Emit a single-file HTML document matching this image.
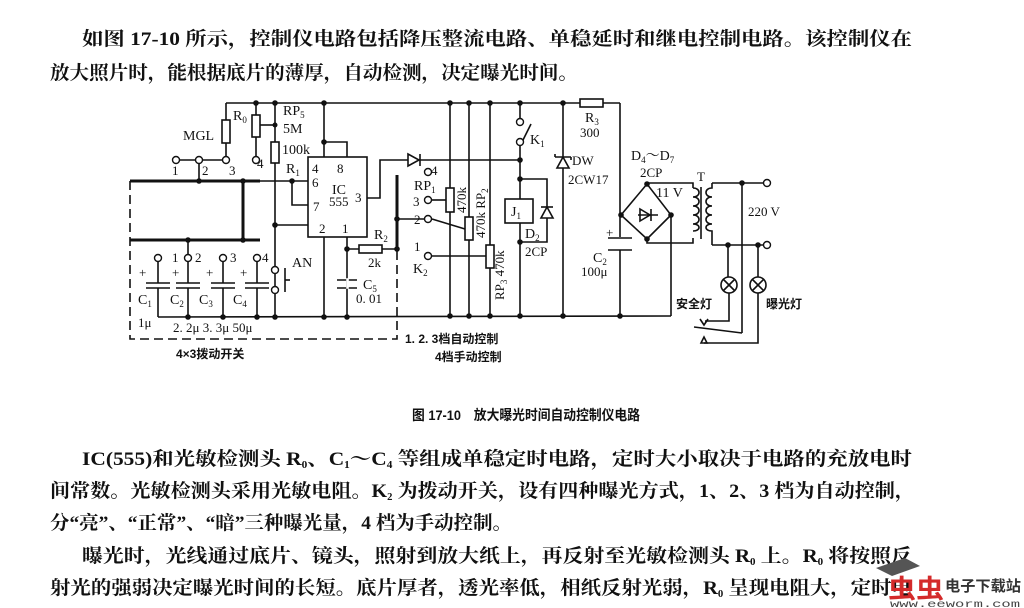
<!DOCTYPE html>
<html><head><meta charset="utf-8"><style>
html,body{margin:0;padding:0;background:#fff;}
svg{display:block;}
.t{font-family:"Liberation Serif","Noto Serif CJK SC",serif;font-weight:bold;fill:#111;}
.c{font-family:"Liberation Serif","Noto Serif CJK SC",serif;fill:#111;}
.cj{font-family:"Liberation Sans","Noto Sans CJK SC",sans-serif;font-weight:bold;fill:#111;}
</style></head><body>
<svg width="1024" height="608" viewBox="0 0 1024 608" xmlns="http://www.w3.org/2000/svg">
<rect width="1024" height="608" fill="#fff"/>
<text class="t" x="82" y="45" font-size="19" textLength="830" lengthAdjust="spacingAndGlyphs">如图 17-10 所示，控制仪电路包括降压整流电路、单稳延时和继电控制电路。该控制仪在</text>
<text class="t" x="50" y="79" font-size="19" textLength="528" lengthAdjust="spacingAndGlyphs">放大照片时，能根据底片的薄厚，自动检测，决定曝光时间。</text>

<g stroke="#111" stroke-width="1.6" fill="none">
<line x1="226" y1="103" x2="620" y2="103"/>
<line x1="226" y1="103" x2="226" y2="156"/>
<rect x="222" y="120" width="8" height="23" fill="#fff"/>
<line x1="256" y1="103" x2="256" y2="157"/>
<rect x="252" y="115" width="8" height="22" fill="#fff"/>
<line x1="260" y1="125" x2="275" y2="125"/>
<line x1="275" y1="103" x2="275" y2="317"/>
<rect x="271" y="142" width="8" height="21" fill="#fff"/>
<line x1="179" y1="160" x2="223" y2="160"/>
<line x1="199" y1="163" x2="199" y2="181"/>
<line x1="130" y1="181" x2="260" y2="181" stroke-width="3"/>
<line x1="260" y1="181" x2="308" y2="181"/>
<line x1="243" y1="181" x2="243" y2="240" stroke-width="3"/>
<line x1="130" y1="240" x2="260" y2="240" stroke-width="3"/>
<line x1="188" y1="240" x2="188" y2="255"/>
<path d="M130 181 V339 H397 V250" stroke-dasharray="9,5"/>
<g>
<line x1="158" y1="261" x2="158" y2="283"/><line x1="146" y1="283" x2="170" y2="283"/><line x1="146" y1="288" x2="170" y2="288"/>
<line x1="188" y1="261" x2="188" y2="283"/><line x1="176" y1="283" x2="200" y2="283"/><line x1="176" y1="288" x2="200" y2="288"/>
<line x1="223" y1="261" x2="223" y2="283"/><line x1="211" y1="283" x2="235" y2="283"/><line x1="211" y1="288" x2="235" y2="288"/>
<line x1="257" y1="261" x2="257" y2="283"/><line x1="245" y1="283" x2="269" y2="283"/><line x1="245" y1="288" x2="269" y2="288"/>
<line x1="158" y1="288" x2="158" y2="317"/><line x1="188" y1="288" x2="188" y2="317"/><line x1="223" y1="288" x2="223" y2="317"/><line x1="257" y1="288" x2="257" y2="317"/>
</g>
<line x1="158" y1="317" x2="671" y2="316"/>
<line x1="285" y1="268" x2="285" y2="292"/><line x1="285" y1="280" x2="290" y2="280"/>
<rect x="308" y="157" width="59" height="80" fill="#fff"/>
<line x1="324" y1="103" x2="324" y2="157"/>
<path d="M324 142 H347 V157"/>
<path d="M292 181 V205 H308"/>
<line x1="275" y1="225" x2="308" y2="225"/>
<line x1="324" y1="237" x2="324" y2="317"/>
<line x1="347" y1="237" x2="347" y2="317"/>
<line x1="337" y1="280" x2="357" y2="280"/><line x1="337" y1="288" x2="357" y2="288"/>
<rect x="347" y="279" width="1" height="9" stroke="#fff"/>
<line x1="347" y1="249" x2="397" y2="249"/>
<rect x="359" y="245" width="23" height="8" fill="#fff"/>
<line x1="397" y1="175" x2="397" y2="249" stroke-width="3"/>
<path d="M367 198 H380 V160 H520"/>
<polygon points="408,154 408,166 419,160" fill="#fff"/>
<line x1="420" y1="154" x2="420" y2="166"/>
<line x1="432" y1="200" x2="446" y2="200"/>
<line x1="397" y1="219" x2="424" y2="219"/>
<line x1="432" y1="219" x2="465" y2="229"/>
<line x1="432" y1="256" x2="486" y2="256"/>
<line x1="450" y1="103" x2="450" y2="316"/>
<rect x="446" y="188" width="8" height="24" fill="#fff"/>
<line x1="469" y1="103" x2="469" y2="316"/>
<rect x="465" y="217" width="8" height="23" fill="#fff"/>
<line x1="490" y1="103" x2="490" y2="316"/>
<rect x="486" y="245" width="8" height="23" fill="#fff"/>
<line x1="520" y1="103" x2="520" y2="119"/>
<line x1="520" y1="145" x2="520" y2="199"/>
<line x1="522" y1="142" x2="531" y2="124"/>
<rect x="505" y="199" width="28" height="24" fill="#fff"/>
<line x1="520" y1="223" x2="520" y2="316"/>
<path d="M520 179 H547 V242 H520"/>
<polygon points="541,218 553,218 547,207" fill="#fff"/>
<line x1="541" y1="207" x2="553" y2="207"/>
<line x1="563" y1="103" x2="563" y2="316"/>
<polygon points="557,168 569,168 563,157" fill="#fff"/>
<path d="M555 157 H571 M555 157 v-3 M571 157 v3"/>
<rect x="580" y="99" width="23" height="8" fill="#fff"/>
<line x1="620" y1="103" x2="620" y2="237"/>
<line x1="620" y1="250" x2="620" y2="316"/>
<line x1="608" y1="238" x2="632" y2="238"/><line x1="608" y1="250" x2="632" y2="250"/>
<polygon points="621,215 647,184 671,215 647,239"/>
<line x1="638" y1="215" x2="658" y2="215"/>
<polygon points="640,209 640,221 650,215"/>
<line x1="651" y1="209" x2="651" y2="221"/>
<line x1="671" y1="215" x2="671" y2="316"/>
<path d="M647 184 V183 H693 V188"/>
<path d="M647 239 V243 H693 V238"/>
<path d="M693 188 c8 0 8 9 0 9 c8 0 8 9 0 9 c8 0 8 9 0 9 c8 0 8 9 0 9 c8 0 8 7 0 7"/>
<line x1="701" y1="187" x2="701" y2="239"/>
<path d="M712 183 V188 c-8 0 -8 9 0 9 c-8 0 -8 9 0 9 c-8 0 -8 9 0 9 c-8 0 -8 9 0 9 c-8 0 -8 7 0 7 V245"/>
<line x1="712" y1="183" x2="764" y2="183"/>
<line x1="712" y1="245" x2="764" y2="245"/>
<line x1="742" y1="183" x2="742" y2="333"/>
<line x1="728" y1="245" x2="728" y2="277"/>
<line x1="758" y1="245" x2="758" y2="277"/>
<circle cx="729" cy="285" r="8"/><path d="M723 279 l12 12 M735 279 l-12 12"/>
<circle cx="758" cy="285" r="8"/><path d="M752 279 l12 12 M764 279 l-12 12"/>
<path d="M729 293 V321 H705"/>
<path d="M758 293 V343 H704"/>
<path d="M694 327 L742 333"/>
<path d="M700 319 l4 6 l4 -6"/>
<path d="M701 343 l3 -6 l3 6 z"/>
</g>
<g stroke="#111" stroke-width="1.4" fill="#fff">
<circle cx="176" cy="160" r="3.5"/><circle cx="199" cy="160" r="3.5"/><circle cx="226" cy="160" r="3.5"/>
<circle cx="256" cy="160" r="3.5"/>
<circle cx="158" cy="258" r="3.5"/><circle cx="188" cy="258" r="3.5"/><circle cx="223" cy="258" r="3.5"/><circle cx="257" cy="258" r="3.5"/>
<circle cx="275" cy="270" r="3.5"/><circle cx="275" cy="290" r="3.5"/>
<circle cx="428" cy="172" r="3.5"/><circle cx="428" cy="200" r="3.5"/><circle cx="428" cy="219" r="3.5"/><circle cx="428" cy="256" r="3.5"/>
<circle cx="520" cy="122" r="3.5"/><circle cx="520" cy="142" r="3.5"/>
<circle cx="767" cy="183" r="3.5"/><circle cx="767" cy="245" r="3.5"/>
</g>
<g fill="#111">
<circle cx="256" cy="103" r="2.8"/><circle cx="275" cy="103" r="2.8"/><circle cx="324" cy="103" r="2.8"/>
<circle cx="275" cy="125" r="2.5"/><circle cx="324" cy="142" r="2.8"/>
<circle cx="199" cy="181" r="2.8"/><circle cx="243" cy="181" r="2.8"/><circle cx="292" cy="181" r="2.8"/>
<circle cx="243" cy="240" r="2.8"/><circle cx="188" cy="240" r="2.8"/>
<circle cx="275" cy="225" r="2.8"/>
<circle cx="188" cy="317" r="2.8"/><circle cx="223" cy="317" r="2.8"/><circle cx="257" cy="317" r="2.8"/><circle cx="275" cy="317" r="2.8"/><circle cx="324" cy="317" r="2.8"/><circle cx="347" cy="317" r="2.8"/>
<circle cx="347" cy="249" r="2.8"/><circle cx="397" cy="249" r="2.8"/><circle cx="397" cy="219" r="2.8"/>
<circle cx="450" cy="103" r="2.8"/><circle cx="469" cy="103" r="2.8"/><circle cx="490" cy="103" r="2.8"/><circle cx="520" cy="103" r="2.8"/><circle cx="563" cy="103" r="2.8"/>
<circle cx="450" cy="316" r="2.8"/><circle cx="469" cy="316" r="2.8"/><circle cx="490" cy="316" r="2.8"/><circle cx="520" cy="316" r="2.8"/><circle cx="563" cy="316" r="2.8"/><circle cx="620" cy="316" r="2.8"/>
<circle cx="520" cy="160" r="2.8"/><circle cx="520" cy="179" r="2.8"/><circle cx="520" cy="242" r="2.8"/>
<circle cx="621" cy="215" r="2.8"/><circle cx="647" cy="184" r="2.8"/><circle cx="671" cy="215" r="2.8"/><circle cx="647" cy="239" r="2.8"/>
<circle cx="742" cy="183" r="2.8"/><circle cx="728" cy="245" r="2.8"/><circle cx="758" cy="245" r="2.8"/>
</g>
<g class="c" font-size="14">
<text x="183" y="140">MGL</text>
<text x="233" y="120">R<tspan font-size="9" dy="3">0</tspan></text>
<text x="283" y="115">RP<tspan font-size="9" dy="3">5</tspan></text>
<text x="283" y="133">5M</text>
<text x="282" y="154">100k</text>
<text x="286" y="173">R<tspan font-size="9" dy="3">1</tspan></text>
<text x="257" y="168" font-size="13">4</text>
<text x="172" y="175" font-size="13">1</text><text x="202" y="175" font-size="13">2</text><text x="229" y="175" font-size="13">3</text>
<text x="312" y="173" font-size="13">4</text><text x="337" y="173" font-size="13">8</text>
<text x="312" y="187" font-size="13">6</text>
<text x="332" y="194" font-size="14">IC</text>
<text x="329" y="206" font-size="13">555</text>
<text x="355" y="202" font-size="13">3</text>
<text x="313" y="211" font-size="13">7</text>
<text x="319" y="233" font-size="13">2</text><text x="342" y="233" font-size="13">1</text>
<text x="374" y="239">R<tspan font-size="9" dy="3">2</tspan></text>
<text x="368" y="267" font-size="13">2k</text>
<text x="363" y="289">C<tspan font-size="9" dy="3">5</tspan></text>
<text x="356" y="303" font-size="13">0. 01</text>
<text x="292" y="267">AN</text>
<text x="172" y="262" font-size="13">1</text><text x="195" y="262" font-size="13">2</text><text x="230" y="262" font-size="13">3</text><text x="262" y="262" font-size="13">4</text>
<text x="138" y="304">C<tspan font-size="9" dy="3">1</tspan></text>
<text x="170" y="304">C<tspan font-size="9" dy="3">2</tspan></text>
<text x="199" y="304">C<tspan font-size="9" dy="3">3</tspan></text>
<text x="233" y="304">C<tspan font-size="9" dy="3">4</tspan></text>
<text x="138" y="327" font-size="13">1μ</text>
<text x="173" y="332" font-size="13">2. 2μ 3. 3μ 50μ</text>
<text x="139" y="277" font-size="13">+</text><text x="172" y="277" font-size="13">+</text><text x="206" y="277" font-size="13">+</text><text x="240" y="277" font-size="13">+</text>
<text x="431" y="175" font-size="13">4</text>
<text x="414" y="190">RP<tspan font-size="9" dy="3">1</tspan></text>
<text x="413" y="206" font-size="13">3</text>
<text x="414" y="224" font-size="13">2</text>
<text x="414" y="251" font-size="13">1</text>
<text x="413" y="273">K<tspan font-size="9" dy="3">2</tspan></text>
<text transform="translate(466,213) rotate(-90)" font-size="13">470k</text>
<text transform="translate(485,238) rotate(-90)" font-size="13">470k RP<tspan font-size="9" dy="3">2</tspan></text>
<text transform="translate(504,300) rotate(-90)" font-size="13">RP<tspan font-size="9" dy="3">3</tspan><tspan dy="-3"> 470k</tspan></text>
<text x="530" y="144">K<tspan font-size="9" dy="3">1</tspan></text>
<text x="511" y="216">J<tspan font-size="9" dy="3">1</tspan></text>
<text x="525" y="238">D<tspan font-size="9" dy="3">2</tspan></text>
<text x="525" y="256" font-size="13">2CP</text>
<text x="572" y="165" font-size="13">DW</text>
<text x="568" y="184" font-size="13">2CW17</text>
<text x="585" y="122">R<tspan font-size="9" dy="3">3</tspan></text>
<text x="580" y="137" font-size="13">300</text>
<text x="631" y="160">D<tspan font-size="9" dy="3">4</tspan><tspan dy="-3">～D</tspan><tspan font-size="9" dy="3">7</tspan></text>
<text x="640" y="177" font-size="13">2CP</text>
<text x="656" y="197" font-size="14">11 V</text>
<text x="697" y="181" font-size="13">T</text>
<text x="748" y="216" font-size="13">220 V</text>
<text x="593" y="262">C<tspan font-size="9" dy="3">2</tspan></text>
<text x="581" y="276" font-size="13">100μ</text>
<text x="606" y="237" font-size="13">+</text>
</g>
<g class="cj" font-size="12">
<text x="676" y="308">安全灯</text>
<text x="766" y="308">曝光灯</text>
<text x="176" y="358">4×3拨动开关</text>
<text x="405" y="343">1. 2. 3档自动控制</text>
<text x="435" y="361">4档手动控制</text>
</g>
<text class="cj" x="412" y="420" font-size="14" textLength="228" lengthAdjust="spacingAndGlyphs">图 17-10　放大曝光时间自动控制仪电路</text>

<text class="t" x="82" y="465" font-size="19" textLength="830" lengthAdjust="spacingAndGlyphs">IC(555)和光敏检测头 R<tspan font-size="10" dy="3">0</tspan><tspan dy="-3">、C</tspan><tspan font-size="10" dy="3">1</tspan><tspan dy="-3">～C</tspan><tspan font-size="10" dy="3">4</tspan><tspan dy="-3"> 等组成单稳定时电路，定时大小取决于电路的充放电时</tspan></text>
<text class="t" x="50" y="497" font-size="19" textLength="865" lengthAdjust="spacingAndGlyphs">间常数。光敏检测头采用光敏电阻。K<tspan font-size="10" dy="3">2</tspan><tspan dy="-3"> 为拨动开关，设有四种曝光方式，1、2、3 档为自动控制，</tspan></text>
<text class="t" x="50" y="529" font-size="19" textLength="462" lengthAdjust="spacingAndGlyphs">分“亮”、“正常”、“暗”三种曝光量，4 档为手动控制。</text>
<text class="t" x="82" y="562" font-size="19" textLength="830" lengthAdjust="spacingAndGlyphs">曝光时，光线通过底片、镜头，照射到放大纸上，再反射至光敏检测头 R<tspan font-size="10" dy="3">0</tspan><tspan dy="-3"> 上。R</tspan><tspan font-size="10" dy="3">0</tspan><tspan dy="-3"> 将按照反</tspan></text>
<text class="t" x="50" y="594" font-size="19" textLength="862" lengthAdjust="spacingAndGlyphs">射光的强弱决定曝光时间的长短。底片厚者，透光率低，相纸反射光弱，R<tspan font-size="10" dy="3">0</tspan><tspan dy="-3"> 呈现电阻大，定时电</tspan></text>
<polygon points="876,568 905,558 920,566 892,576" fill="#555"/>
<text x="888" y="598" font-family="Liberation Sans,Noto Sans CJK SC,sans-serif" font-weight="bold" font-size="26" fill="#d42a2a" textLength="56" lengthAdjust="spacingAndGlyphs">虫虫</text>
<text x="945" y="591" font-family="Liberation Sans,Noto Sans CJK SC,sans-serif" font-weight="bold" font-size="15" fill="#333" textLength="76" lengthAdjust="spacingAndGlyphs">电子下载站</text>
<text x="890" y="607" font-family="Liberation Mono,monospace" font-size="10" fill="#444" textLength="130" lengthAdjust="spacingAndGlyphs">www.eeworm.com</text>
</svg>
</body></html>
